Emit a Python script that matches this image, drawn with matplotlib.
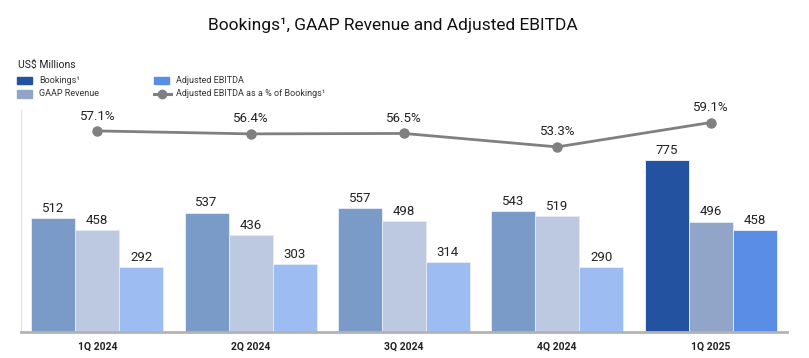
import matplotlib.pyplot as plt
import numpy as np

plt.rcParams['font.family'] = ['Roboto', 'DejaVu Sans']

quarters = ["1Q 2024", "2Q 2024", "3Q 2024", "4Q 2024", "1Q 2025"]
bookings = [512, 537, 557, 543, 775]
gaap_revenue = [458, 436, 498, 519, 496]
adj_ebitda = [292, 303, 314, 290, 458]
ebitda_pct = [57.1, 56.4, 56.5, 53.3, 59.1]

# past quarters are drawn faded, latest quarter in full colour
faded = ["#7a9bc8", "#bdc8e1", "#9dbcf1"]
full = ["#2352a0", "#91a5c8", "#5a8ee6"]

fig = plt.figure(figsize=(8.09, 3.58), dpi=100)
ax = fig.add_axes([0.0256, 0.074, 0.9474, 0.619])

x = np.arange(len(quarters))
w = 0.287
series = [bookings, gaap_revenue, adj_ebitda]
for k, vals in enumerate(series):
    cols = [faded[k]] * (len(quarters) - 1) + [full[k]]
    bars = ax.bar(x + (k - 1) * w, vals, w, color=cols,
                  edgecolor="#e4eaf5", linewidth=0.7, zorder=2)
    for b, v in zip(bars, vals):
        ax.text(b.get_x() + b.get_width() / 2, v + 14, str(v),
                ha="center", va="bottom", fontsize=9.5, color="#222222")

ax.set_xlim(-0.5, 4.5)
ax.set_ylim(0, 1000)
ax.set_yticks([])
ax.set_xticks(x)
ax.set_xticklabels(quarters, fontsize=7.5, fontweight="bold", color="#222222")
ax.tick_params(axis="x", length=0, pad=7)
for s in ["top", "right"]:
    ax.spines[s].set_visible(False)
ax.spines["left"].set_color("#e3e3e3")
ax.spines["left"].set_linewidth(0.8)
ax.spines["bottom"].set_color("#b3b3b3")
ax.spines["bottom"].set_linewidth(2)

ax2 = ax.twinx()
ax2.set_ylim(9.4, 62.1)
ax2.axis("off")
ax2.plot(x, ebitda_pct, color="#808080", linewidth=2, marker="o",
         markersize=6.5, zorder=3)
for xi, p in zip(x, ebitda_pct):
    ax2.text(xi, p + 2.0, f"{p:.1f}%", ha="center", va="bottom",
             fontsize=9.5, color="#222222")

fig.text(0.486, 0.93, "Bookings\u00b9, GAAP Revenue and Adjusted EBITDA",
         ha="center", va="center", fontsize=12.5, color="#111111")
fig.text(0.022, 0.818, "US$ Millions", ha="left", va="center",
         fontsize=7.5, color="#222222")

# legend drawn by hand to match the two-column layout
legend_items = [
    (0.021, 0.775, "patch", full[0], "Bookings\u00b9"),
    (0.021, 0.738, "patch", full[1], "GAAP Revenue"),
    (0.190, 0.775, "patch", full[2], "Adjusted EBITDA"),
    (0.190, 0.738, "line", "#808080", "Adjusted EBITDA as a % of Bookings\u00b9"),
]
for lx, ly, kind, c, label in legend_items:
    if kind == "patch":
        fig.patches.append(plt.Rectangle((lx, ly - 0.011), 0.019, 0.022,
                                         transform=fig.transFigure,
                                         color=c, figure=fig))
        tx = lx + 0.027
    else:
        fig.add_artist(plt.Line2D([lx, lx + 0.021], [ly, ly], color=c,
                                  linewidth=2.2, transform=fig.transFigure))
        fig.add_artist(plt.Line2D([lx + 0.0105], [ly], color=c, marker="o",
                                  markersize=6, linestyle="none",
                                  transform=fig.transFigure))
        tx = lx + 0.028
    fig.text(tx, ly, label, ha="left", va="center", fontsize=6.5,
             color="#333333")

fig.savefig("out.png", dpi=100)
